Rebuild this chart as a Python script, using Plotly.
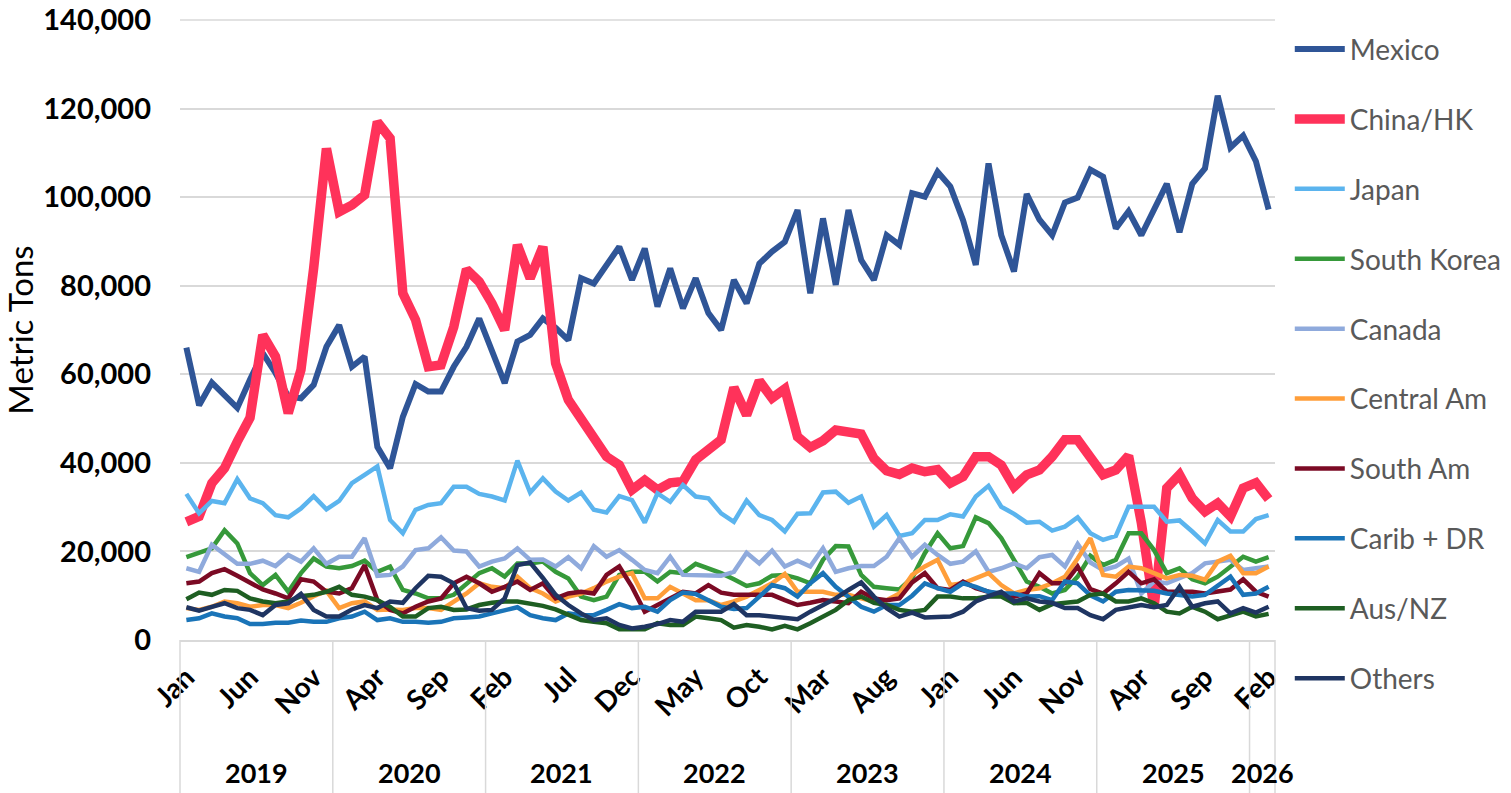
import pandas as pd
import plotly.graph_objects as go

# monthly categories Jan 2019 .. Feb 2026
months = pd.date_range("2019-01-01", "2026-02-01", freq="MS")
idx = list(range(len(months)))

# metric tons
mexico = [66000, 53000, 58100, 55300, 52400, 58800, 64800, 60300, 55000, 54600,
          57600, 66200, 71100, 61700, 64000, 43600, 38800, 50400, 57800, 56100,
          56100, 61700, 66200, 72600, 65500, 58000, 67400, 68900, 72600, 70500,
          67700, 81700, 80500, 84700, 88800, 81300, 88400, 75300, 83900, 74900,
          81700, 73800, 70000, 81300, 76000, 85000, 87700, 89900, 97100, 78300,
          95200, 80200, 97100, 85800, 81300, 91400, 89200, 100900, 100100, 105700,
          102400, 94800, 84700, 107600, 91400, 83200, 100700, 94900, 91400, 98800,
          99900, 106200, 104600, 92900, 96800, 91400, 97200, 103000, 92100, 103000,
          106500, 122900, 111200, 113900, 108100, 97200]
china_hk = [26700, 27900, 35400, 38800, 44800, 50200, 68900, 64000, 51200, 61000,
            84000, 111000, 96700, 98200, 100500, 117000, 113300, 78300, 72300, 61700,
            62100, 70700, 83700, 80900, 76000, 70000, 89200, 81700, 88800, 62500,
            54200, 49700, 45800, 41400, 39500, 33900, 36100, 33900, 35500, 35800,
            40700, 43300, 45200, 57000, 50800, 58500, 54600, 56700, 45900, 43500,
            45000, 47400, 47200, 46500, 41000, 38200, 37400, 38800, 38000, 38500,
            35400, 36900, 41400, 41400, 39500, 34600, 37300, 38400, 41400, 45200,
            45200, 41500, 37300, 38400, 41600, 26500, 7200, 34300, 37300, 32000,
            29000, 30900, 27900, 34300, 35500, 31800]
japan = [33000, 28600, 31400, 30900, 36300, 32000, 30900, 28200, 27700, 29700,
         32500, 29500, 31400, 35400, 37300, 39200, 27100, 24100, 29400, 30500,
         30900, 34600, 34600, 33000, 32400, 31500, 40500, 33300, 36500, 33500,
         31500, 33300, 29400, 28800, 32500, 31600, 26500, 33100, 31200, 35000,
         32400, 32000, 28600, 26700, 31500, 28200, 27100, 24500, 28500, 28600,
         33300, 33500, 31000, 32400, 25600, 28200, 23500, 24100, 27100, 27100,
         28400, 27900, 32400, 34800, 30100, 28500, 26500, 26700, 24700, 25600,
         27700, 24100, 22600, 23500, 30100, 30100, 30100, 26700, 27000, 24500,
         21800, 27100, 24500, 24500, 27300, 28200]
south_korea = [18700, 19700, 20700, 24800, 21800, 15100, 12400, 14700, 10900, 15100,
               18400, 16600, 16200, 16700, 17900, 15400, 16600, 11300, 10500, 9400,
               9400, 10200, 12800, 15100, 16200, 14300, 17300, 17300, 17700, 15400,
               13900, 9800, 9000, 9800, 14700, 15400, 15400, 13200, 15400, 15100,
               17200, 16200, 15100, 13700, 12200, 12800, 14500, 14700, 13900, 12800,
               18100, 21200, 21100, 14700, 12000, 11700, 11400, 14000, 19600, 24100,
               20700, 21200, 27700, 26400, 23000, 18100, 13200, 12000, 10500, 11300,
               14300, 19000, 16900, 18100, 24100, 24100, 20300, 15100, 16200, 13700,
               12800, 14300, 16600, 18800, 17700, 18700]
canada = [16200, 15400, 21500, 19200, 17200, 17200, 17900, 16700, 19200, 17700,
          20700, 17200, 18800, 18800, 23000, 14500, 14700, 16600, 20300, 20700,
          23200, 20200, 20000, 16600, 17700, 18400, 20700, 18100, 18200, 16600,
          18700, 16200, 21200, 18800, 20300, 18100, 15800, 15100, 18800, 14700,
          14700, 14500, 14500, 15400, 19700, 17300, 20200, 16600, 17900, 16600,
          20700, 15400, 16200, 16700, 16700, 18800, 23000, 18800, 21500, 19200,
          17200, 17700, 20000, 15400, 16200, 17300, 16200, 18700, 19200, 16600,
          21700, 17500, 15800, 16600, 18400, 10500, 13200, 12800, 13900, 15100,
          17300, 17700, 18100, 15800, 16200, 16600]
central_am = [7200, 6800, 7500, 8700, 8300, 7500, 7900, 7900, 7200, 8400,
              9900, 11100, 7200, 8300, 8700, 6800, 6900, 6800, 7200, 7200,
              6800, 8700, 10500, 12800, 12000, 11700, 14300, 11700, 10500, 8700,
              9800, 10500, 11700, 13200, 14300, 15100, 9400, 9400, 12000, 10500,
              9000, 9000, 7900, 8700, 9800, 11300, 12800, 14900, 10900, 10900,
              10900, 10200, 10200, 9400, 8700, 9000, 10500, 14700, 16600, 18100,
              12400, 12800, 13900, 15100, 12400, 10500, 11300, 11700, 12800, 14300,
              18400, 23000, 14700, 14300, 16600, 16200, 15100, 13900, 14700, 14500,
              13600, 17700, 19000, 15100, 15100, 16600]
south_am = [12800, 13200, 15100, 16000, 14500, 13000, 11400, 10500, 9400, 13700,
            13200, 10900, 10500, 11700, 16900, 9000, 6800, 6000, 7500, 8700,
            9400, 12800, 14300, 12800, 10900, 12000, 13200, 11300, 12800, 9400,
            10500, 10900, 10500, 14700, 16600, 12000, 6400, 7900, 9400, 10900,
            10500, 12400, 10700, 10200, 10200, 10200, 10200, 9000, 7900, 8400,
            9000, 8700, 8300, 10900, 9400, 9000, 9400, 13000, 15100, 11700,
            11300, 13200, 11700, 10900, 10200, 9800, 10500, 15100, 12800, 12800,
            16600, 11500, 10500, 12800, 15400, 12800, 13700, 10900, 10900, 10900,
            10500, 10900, 11400, 13700, 10900, 9800]
carib_dr = [4500, 4900, 6000, 5300, 4900, 3600, 3600, 3900, 3900, 4400,
            4100, 4100, 4900, 5300, 6400, 4500, 4900, 4100, 4100, 3900,
            4100, 4900, 5100, 5300, 6000, 6800, 7400, 5600, 4900, 4500,
            6000, 5600, 5600, 6800, 8100, 7200, 7500, 6400, 9000, 10700,
            10400, 9000, 7500, 7000, 7200, 9800, 12400, 11700, 9800, 12800,
            15100, 12000, 9800, 7500, 6400, 7900, 7900, 10000, 12800, 11700,
            10900, 12800, 12000, 10900, 10500, 10500, 9800, 9900, 9000, 13200,
            12800, 10100, 8700, 10900, 11300, 11300, 11100, 10500, 10200, 9800,
            10200, 12400, 14300, 10200, 10500, 12000]
aus_nz = [9200, 10700, 10200, 11300, 11100, 9400, 8700, 8300, 8700, 9900,
          10200, 10900, 12000, 10200, 9800, 9000, 7500, 5300, 5300, 7200,
          7500, 6800, 6900, 7900, 8400, 8700, 8700, 8300, 7700, 6900,
          5600, 4500, 4100, 3800, 2400, 2300, 2400, 3800, 3400, 3400,
          5300, 4900, 4500, 2800, 3400, 3000, 2400, 3200, 2400, 3800,
          5300, 6800, 9000, 9800, 8400, 7900, 6800, 6400, 6800, 9800,
          9800, 9400, 9400, 9800, 9800, 8300, 8400, 6800, 8100, 8400,
          8700, 10200, 10500, 8700, 8700, 9400, 8300, 6400, 6000, 7500,
          6400, 4700, 5600, 6400, 5300, 5900]
others = [7400, 6600, 7500, 8300, 7200, 6800, 5600, 7900, 8300, 10400,
          6800, 5300, 5300, 6900, 7900, 7200, 8700, 8400, 11700, 14500,
          14300, 12800, 7200, 6600, 6800, 9400, 16900, 17500, 14000, 10200,
          7900, 6000, 4500, 4900, 3400, 2600, 3000, 3600, 4500, 4100,
          6400, 6400, 6400, 8100, 5600, 5600, 5300, 4900, 4700, 6400,
          7900, 9400, 11300, 13000, 9800, 7200, 5300, 6200, 5100, 5100,
          5300, 6400, 8700, 9900, 10900, 8700, 9400, 8700, 8400, 7200,
          7200, 5600, 4700, 6800, 7400, 7900, 7400, 7900, 12000, 7500,
          8300, 8700, 6000, 7200, 6200, 7500]

series = [
    ("Mexico", mexico, "#2F5597", 6),
    ("China/HK", china_hk, "#FF325A", 9.5),
    ("Japan", japan, "#5BB4EE", 4.5),
    ("South Korea", south_korea, "#36993A", 4.5),
    ("Canada", canada, "#8FAADC", 4.5),
    ("Central Am", central_am, "#FF9E3A", 4.5),
    ("South Am", south_am, "#7B0A24", 4.5),
    ("Carib + DR", carib_dr, "#1A74B8", 4.5),
    ("Aus/NZ", aus_nz, "#1E5E22", 4.5),
    ("Others", others, "#1F3562", 4.5),
]

FONT = "Lato, 'Open Sans', sans-serif"
GRID = "#D9D9D9"
labels = [m.strftime("%b %Y") for m in months]

fig = go.Figure()
for name, vals, color, width in series:
    fig.add_trace(go.Scatter(
        x=idx, y=vals, name=name, mode="lines", legendgroup=name,
        line=dict(color=color, width=width),
        customdata=labels,
        hovertemplate="%{customdata}<br>%{y:,.0f} t<extra>" + name + "</extra>"))

# month ticks every 5 months, year groups underneath
tick_idx = idx[::5]
tick_text = [months[i].strftime("%b") for i in tick_idx]

n = len(months)
bounds = [-0.5] + [i - 0.5 for i in range(1, n) if months[i].year != months[i - 1].year] + [n - 0.5]
for b in bounds:
    fig.add_shape(type="line", xref="paper", yref="paper",
                  x0=(b + 0.5) / n, x1=(b + 0.5) / n, y0=0, y1=-0.25,
                  line=dict(color=GRID, width=1.5))

# top gridline sits exactly on the plot edge, draw it unclipped
fig.add_shape(type="line", xref="paper", yref="paper", x0=0, x1=1, y0=1, y1=1,
              line=dict(color=GRID, width=1.5), layer="below")

years = sorted(set(m.year for m in months))
for yr in years:
    pos = [i for i in idx if months[i].year == yr]
    fig.add_annotation(x=(pos[0] + pos[-1]) / 2, y=-0.2145, xref="x", yref="paper",
                       text=f"<b>{yr}</b>", showarrow=False, yanchor="middle",
                       font=dict(family=FONT, size=27, color="#000000"))

fig.update_layout(
    width=1511, height=793,
    margin=dict(l=180, r=236, t=20, b=153, autoexpand=False),
    plot_bgcolor="white", paper_bgcolor="white",
    font=dict(family=FONT, color="#000000"),
    showlegend=True,
    legend=dict(x=1.0135, y=0.993, xanchor="left", yanchor="top",
                font=dict(family=FONT, size=28, color="#595959"),
                tracegroupgap=30.5, itemwidth=50, maxheight=770,
                bgcolor="rgba(0,0,0,0)"),
    hovermode="closest",
)
fig.update_xaxes(range=[-0.5, n - 0.5], tickmode="array", tickvals=tick_idx, ticktext=tick_text,
                 tickangle=-45, tickfont=dict(family=FONT, size=28, color="#000000", weight="bold"),
                 showgrid=False, showline=True, linecolor=GRID, linewidth=1.5,
                 ticks="", ticklabelstandoff=8, zeroline=False, automargin=False,
                 ticklabeloverflow="allow")
fig.update_yaxes(range=[0, 140000], dtick=20000, tickformat=",",
                 tickfont=dict(family=FONT, size=29, color="#000000", weight="bold"),
                 showgrid=True, gridcolor=GRID, gridwidth=1.5, zeroline=False,
                 showline=False, ticks="", ticklabelstandoff=28, automargin=False,
                 ticklabeloverflow="allow",
                 title=dict(text="Metric Tons", font=dict(family=FONT, size=33, color="#000000"),
                            standoff=0))

# drop the default 8px body margin so the figure fills the window exactly
fig.write_html("out.html", config={"displayModeBar": False},
               post_script="document.body.style.margin='0px';")
